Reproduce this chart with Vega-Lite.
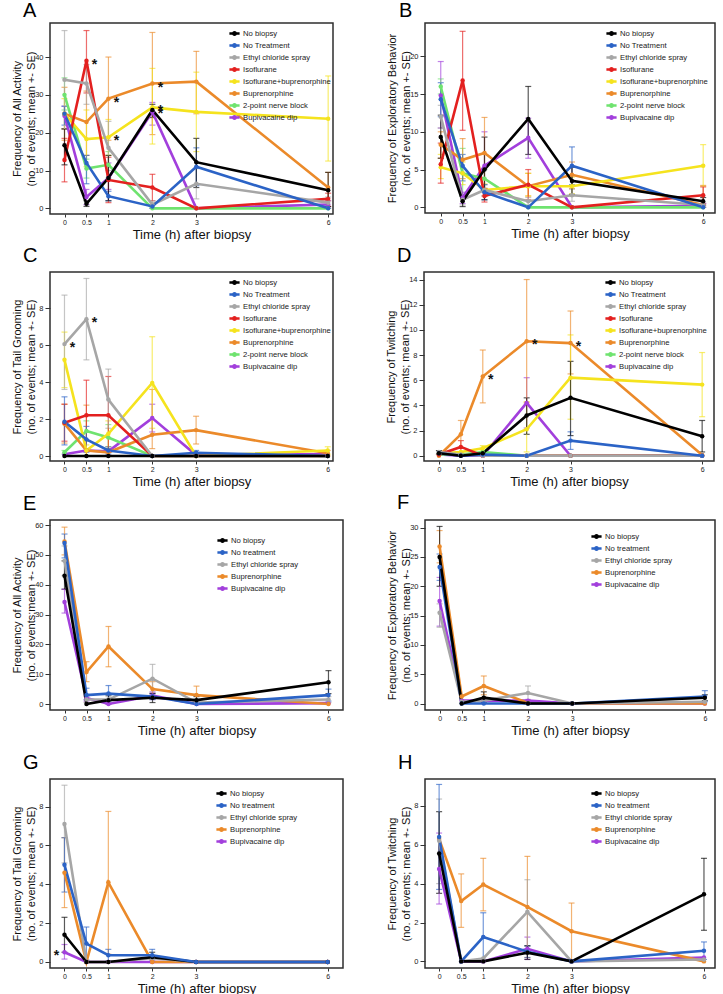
{
"$schema":"https://vega.github.io/schema/vega-lite/v6.json",
"padding":{"left":10,"top":0,"right":0,"bottom":0},
"background":"white",
"data":{"values":[
{"p":"A","g":"Bupivacaine dip","t":0,"m":24.5,"lo":21,"hi":27},
{"p":"A","g":"Bupivacaine dip","t":0.5,"m":3,"lo":1,"hi":5},
{"p":"A","g":"Bupivacaine dip","t":1,"m":8,"lo":5,"hi":12},
{"p":"A","g":"Bupivacaine dip","t":2,"m":25.5,"lo":22,"hi":28},
{"p":"A","g":"Bupivacaine dip","t":3,"m":0},
{"p":"A","g":"Bupivacaine dip","t":6,"m":1,"lo":0,"hi":2},
{"p":"A","g":"2-point nerve block","t":0,"m":30,"lo":26,"hi":34.5},
{"p":"A","g":"2-point nerve block","t":0.5,"m":10.5,"lo":8,"hi":13},
{"p":"A","g":"2-point nerve block","t":1,"m":11.5,"lo":8,"hi":15},
{"p":"A","g":"2-point nerve block","t":2,"m":0},
{"p":"A","g":"2-point nerve block","t":3,"m":0},
{"p":"A","g":"2-point nerve block","t":6,"m":0},
{"p":"A","g":"Buprenorphine","t":0,"m":25,"lo":18,"hi":32},
{"p":"A","g":"Buprenorphine","t":0.5,"m":22.8,"lo":14,"hi":31},
{"p":"A","g":"Buprenorphine","t":1,"m":29,"lo":18,"hi":40,"s":1},
{"p":"A","g":"Buprenorphine","t":2,"m":33,"lo":19.5,"hi":46.5,"s":1},
{"p":"A","g":"Buprenorphine","t":3,"m":33.5,"lo":25,"hi":41.5},
{"p":"A","g":"Buprenorphine","t":6,"m":5.5,"lo":2,"hi":9.5},
{"p":"A","g":"Isoflurane+buprenorphine","t":0,"m":25,"lo":21,"hi":29},
{"p":"A","g":"Isoflurane+buprenorphine","t":0.5,"m":18.3,"lo":11,"hi":26},
{"p":"A","g":"Isoflurane+buprenorphine","t":1,"m":18.8,"lo":14,"hi":23.5,"s":1},
{"p":"A","g":"Isoflurane+buprenorphine","t":2,"m":26.7,"lo":17,"hi":37,"s":1},
{"p":"A","g":"Isoflurane+buprenorphine","t":3,"m":25.5,"lo":15,"hi":36},
{"p":"A","g":"Isoflurane+buprenorphine","t":6,"m":23.7,"lo":12.5,"hi":35},
{"p":"A","g":"Isoflurane","t":0,"m":12.8,"lo":7,"hi":18.5},
{"p":"A","g":"Isoflurane","t":0.5,"m":39,"lo":30.5,"hi":47,"s":1},
{"p":"A","g":"Isoflurane","t":1,"m":7.5,"lo":1.5,"hi":13.5},
{"p":"A","g":"Isoflurane","t":2,"m":5.5,"lo":2,"hi":9},
{"p":"A","g":"Isoflurane","t":3,"m":0},
{"p":"A","g":"Isoflurane","t":6,"m":2.5,"lo":0.5,"hi":4},
{"p":"A","g":"Ethyl chloride spray","t":0,"m":34,"lo":21,"hi":47},
{"p":"A","g":"Ethyl chloride spray","t":0.5,"m":33,"lo":27.5,"hi":38},
{"p":"A","g":"Ethyl chloride spray","t":1,"m":16,"lo":10,"hi":23},
{"p":"A","g":"Ethyl chloride spray","t":2,"m":1,"lo":0,"hi":2},
{"p":"A","g":"Ethyl chloride spray","t":3,"m":6.5,"lo":2.5,"hi":10.5},
{"p":"A","g":"Ethyl chloride spray","t":6,"m":1.5,"lo":0,"hi":3},
{"p":"A","g":"No Treatment","t":0,"m":25,"lo":22,"hi":27},
{"p":"A","g":"No Treatment","t":0.5,"m":12,"lo":6.5,"hi":14},
{"p":"A","g":"No Treatment","t":1,"m":3.2,"lo":2,"hi":4.5},
{"p":"A","g":"No Treatment","t":2,"m":0.5,"lo":0,"hi":1},
{"p":"A","g":"No Treatment","t":3,"m":11,"lo":6,"hi":16},
{"p":"A","g":"No Treatment","t":6,"m":0},
{"p":"A","g":"No biopsy","t":0,"m":16.7,"lo":11.5,"hi":21},
{"p":"A","g":"No biopsy","t":0.5,"m":1.2,"lo":0.5,"hi":2},
{"p":"A","g":"No biopsy","t":1,"m":8,"lo":2,"hi":14},
{"p":"A","g":"No biopsy","t":2,"m":26,"lo":24,"hi":27.5,"s":1},
{"p":"A","g":"No biopsy","t":3,"m":12.2,"lo":5.5,"hi":18.5},
{"p":"A","g":"No biopsy","t":6,"m":4.8,"lo":0.5,"hi":9.5},

{"p":"B","g":"Bupivacaine dip","t":0,"m":14.8,"lo":10.5,"hi":19.3},
{"p":"B","g":"Bupivacaine dip","t":0.5,"m":1.3,"lo":0.5,"hi":2},
{"p":"B","g":"Bupivacaine dip","t":1,"m":5.5,"lo":1.5,"hi":10},
{"p":"B","g":"Bupivacaine dip","t":2,"m":9.2,"lo":6.5,"hi":11.8},
{"p":"B","g":"Bupivacaine dip","t":3,"m":0},
{"p":"B","g":"Bupivacaine dip","t":6,"m":0.2,"lo":0,"hi":0.5},
{"p":"B","g":"2-point nerve block","t":0,"m":16,"lo":15,"hi":17},
{"p":"B","g":"2-point nerve block","t":0.5,"m":4.5,"lo":1.5,"hi":7.8},
{"p":"B","g":"2-point nerve block","t":1,"m":3.8,"lo":2.5,"hi":5},
{"p":"B","g":"2-point nerve block","t":2,"m":0},
{"p":"B","g":"2-point nerve block","t":3,"m":0},
{"p":"B","g":"2-point nerve block","t":6,"m":0},
{"p":"B","g":"Buprenorphine","t":0,"m":8.3,"lo":6.5,"hi":10},
{"p":"B","g":"Buprenorphine","t":0.5,"m":6.3,"lo":3.8,"hi":9.1},
{"p":"B","g":"Buprenorphine","t":1,"m":7.2,"lo":2.5,"hi":11.9},
{"p":"B","g":"Buprenorphine","t":2,"m":2.8,"lo":1.5,"hi":4.5},
{"p":"B","g":"Buprenorphine","t":3,"m":4.3,"lo":2.5,"hi":6},
{"p":"B","g":"Buprenorphine","t":6,"m":0.3,"lo":0,"hi":2.9},
{"p":"B","g":"Isoflurane+buprenorphine","t":0,"m":5.3,"lo":3.8,"hi":7},
{"p":"B","g":"Isoflurane+buprenorphine","t":0.5,"m":4.5,"lo":3,"hi":6},
{"p":"B","g":"Isoflurane+buprenorphine","t":1,"m":2.3,"lo":1.5,"hi":3.1},
{"p":"B","g":"Isoflurane+buprenorphine","t":2,"m":2.8,"lo":1.5,"hi":4.5},
{"p":"B","g":"Isoflurane+buprenorphine","t":3,"m":2.8,"lo":1.8,"hi":4},
{"p":"B","g":"Isoflurane+buprenorphine","t":6,"m":5.5,"lo":2.8,"hi":8.3},
{"p":"B","g":"Isoflurane","t":0,"m":5.7,"lo":3.2,"hi":8.5},
{"p":"B","g":"Isoflurane","t":0.5,"m":16.8,"lo":10.2,"hi":23.3},
{"p":"B","g":"Isoflurane","t":1,"m":1.5,"lo":0.7,"hi":2.5},
{"p":"B","g":"Isoflurane","t":2,"m":3,"lo":1,"hi":5},
{"p":"B","g":"Isoflurane","t":3,"m":0},
{"p":"B","g":"Isoflurane","t":6,"m":1.6,"lo":0.5,"hi":2.7},
{"p":"B","g":"Ethyl chloride spray","t":0,"m":12,"lo":10.5,"hi":13.5},
{"p":"B","g":"Ethyl chloride spray","t":0.5,"m":1,"lo":0.3,"hi":1.7},
{"p":"B","g":"Ethyl chloride spray","t":1,"m":2.3,"lo":1.5,"hi":3},
{"p":"B","g":"Ethyl chloride spray","t":2,"m":0.8,"lo":0.3,"hi":1.3},
{"p":"B","g":"Ethyl chloride spray","t":3,"m":1.6,"lo":0.8,"hi":2.4},
{"p":"B","g":"Ethyl chloride spray","t":6,"m":0.3,"lo":0,"hi":0.6},
{"p":"B","g":"No Treatment","t":0,"m":14.3,"lo":12,"hi":16.5},
{"p":"B","g":"No Treatment","t":0.5,"m":5.5,"lo":3.5,"hi":7},
{"p":"B","g":"No Treatment","t":1,"m":2,"lo":1,"hi":3},
{"p":"B","g":"No Treatment","t":2,"m":0},
{"p":"B","g":"No Treatment","t":3,"m":5.5,"lo":3,"hi":8},
{"p":"B","g":"No Treatment","t":6,"m":0},
{"p":"B","g":"No biopsy","t":0,"m":9.3,"lo":6.5,"hi":12.2},
{"p":"B","g":"No biopsy","t":0.5,"m":0.8,"lo":0.1,"hi":1.5},
{"p":"B","g":"No biopsy","t":1,"m":5,"lo":1,"hi":9.3},
{"p":"B","g":"No biopsy","t":2,"m":11.7,"lo":7,"hi":16},
{"p":"B","g":"No biopsy","t":3,"m":3.5,"lo":1.7,"hi":5.3},
{"p":"B","g":"No biopsy","t":6,"m":0.8,"lo":0.3,"hi":1.3},

{"p":"C","g":"Bupivacaine dip","t":0,"m":0.1},
{"p":"C","g":"Bupivacaine dip","t":0.5,"m":0.3},
{"p":"C","g":"Bupivacaine dip","t":1,"m":0.25},
{"p":"C","g":"Bupivacaine dip","t":2,"m":2.05,"lo":1.3,"hi":2.8},
{"p":"C","g":"Bupivacaine dip","t":3,"m":0.05},
{"p":"C","g":"Bupivacaine dip","t":6,"m":0.1},
{"p":"C","g":"2-point nerve block","t":0,"m":0.2,"lo":0.1,"hi":0.3},
{"p":"C","g":"2-point nerve block","t":0.5,"m":1.35,"lo":0.8,"hi":1.9},
{"p":"C","g":"2-point nerve block","t":1,"m":1,"lo":0.4,"hi":1.7},
{"p":"C","g":"2-point nerve block","t":2,"m":0},
{"p":"C","g":"2-point nerve block","t":3,"m":0},
{"p":"C","g":"2-point nerve block","t":6,"m":0},
{"p":"C","g":"Buprenorphine","t":0,"m":1.75,"lo":0.7,"hi":2.8},
{"p":"C","g":"Buprenorphine","t":0.5,"m":0.3,"lo":0,"hi":2.75},
{"p":"C","g":"Buprenorphine","t":1,"m":0.2,"lo":0,"hi":0.4},
{"p":"C","g":"Buprenorphine","t":2,"m":1.15,"lo":0.4,"hi":3.6},
{"p":"C","g":"Buprenorphine","t":3,"m":1.4,"lo":0.65,"hi":2.15},
{"p":"C","g":"Buprenorphine","t":6,"m":0.15,"lo":0,"hi":0.3},
{"p":"C","g":"Isoflurane+buprenorphine","t":0,"m":5.2,"lo":3.7,"hi":6.7},
{"p":"C","g":"Isoflurane+buprenorphine","t":0.5,"m":0.3,"lo":0,"hi":0.6},
{"p":"C","g":"Isoflurane+buprenorphine","t":1,"m":1.2,"lo":0.5,"hi":1.9},
{"p":"C","g":"Isoflurane+buprenorphine","t":2,"m":3.95,"lo":1.5,"hi":6.45},
{"p":"C","g":"Isoflurane+buprenorphine","t":3,"m":0},
{"p":"C","g":"Isoflurane+buprenorphine","t":6,"m":0.3,"lo":0.1,"hi":0.5},
{"p":"C","g":"Isoflurane","t":0,"m":1.8,"lo":0.8,"hi":2.8},
{"p":"C","g":"Isoflurane","t":0.5,"m":2.2,"lo":0.3,"hi":4.1},
{"p":"C","g":"Isoflurane","t":1,"m":2.2,"lo":0.2,"hi":4.3},
{"p":"C","g":"Isoflurane","t":2,"m":0},
{"p":"C","g":"Isoflurane","t":3,"m":0},
{"p":"C","g":"Isoflurane","t":6,"m":0},
{"p":"C","g":"Ethyl chloride spray","t":0,"m":6.05,"lo":3.6,"hi":8.7,"s":1},
{"p":"C","g":"Ethyl chloride spray","t":0.5,"m":7.4,"lo":5.2,"hi":9.6,"s":1},
{"p":"C","g":"Ethyl chloride spray","t":1,"m":3.05,"lo":1.5,"hi":4.7},
{"p":"C","g":"Ethyl chloride spray","t":2,"m":0},
{"p":"C","g":"Ethyl chloride spray","t":3,"m":0},
{"p":"C","g":"Ethyl chloride spray","t":6,"m":0},
{"p":"C","g":"No Treatment","t":0,"m":1.85,"lo":0.6,"hi":3.2},
{"p":"C","g":"No Treatment","t":0.5,"m":0.9,"lo":0.2,"hi":1.6},
{"p":"C","g":"No Treatment","t":1,"m":0.3,"lo":0.1,"hi":0.5},
{"p":"C","g":"No Treatment","t":2,"m":0},
{"p":"C","g":"No Treatment","t":3,"m":0.18,"lo":0.1,"hi":0.3},
{"p":"C","g":"No Treatment","t":6,"m":0},
{"p":"C","g":"No biopsy","t":0,"m":0},
{"p":"C","g":"No biopsy","t":0.5,"m":0},
{"p":"C","g":"No biopsy","t":1,"m":0},
{"p":"C","g":"No biopsy","t":2,"m":0},
{"p":"C","g":"No biopsy","t":3,"m":0},
{"p":"C","g":"No biopsy","t":6,"m":0},

{"p":"D","g":"Bupivacaine dip","t":0,"m":0.1},
{"p":"D","g":"Bupivacaine dip","t":0.5,"m":0},
{"p":"D","g":"Bupivacaine dip","t":1,"m":0},
{"p":"D","g":"Bupivacaine dip","t":2,"m":4.2,"lo":2.2,"hi":6.2},
{"p":"D","g":"Bupivacaine dip","t":3,"m":0},
{"p":"D","g":"Bupivacaine dip","t":6,"m":0},
{"p":"D","g":"2-point nerve block","t":0,"m":0.1},
{"p":"D","g":"2-point nerve block","t":0.5,"m":0.1},
{"p":"D","g":"2-point nerve block","t":1,"m":0.3},
{"p":"D","g":"2-point nerve block","t":2,"m":0},
{"p":"D","g":"2-point nerve block","t":3,"m":0},
{"p":"D","g":"2-point nerve block","t":6,"m":0},
{"p":"D","g":"Buprenorphine","t":0,"m":0},
{"p":"D","g":"Buprenorphine","t":0.5,"m":1.7,"lo":0.6,"hi":2.8},
{"p":"D","g":"Buprenorphine","t":1,"m":6.3,"lo":4.2,"hi":8.4,"s":1},
{"p":"D","g":"Buprenorphine","t":2,"m":9.1,"lo":4.2,"hi":14,"s":1},
{"p":"D","g":"Buprenorphine","t":3,"m":8.95,"lo":6.5,"hi":11.5,"s":1},
{"p":"D","g":"Buprenorphine","t":6,"m":0.05},
{"p":"D","g":"Isoflurane+buprenorphine","t":0,"m":0.2},
{"p":"D","g":"Isoflurane+buprenorphine","t":0.5,"m":0.3},
{"p":"D","g":"Isoflurane+buprenorphine","t":1,"m":0.6,"lo":0.4,"hi":0.8},
{"p":"D","g":"Isoflurane+buprenorphine","t":2,"m":2.1,"lo":0.3,"hi":4.3},
{"p":"D","g":"Isoflurane+buprenorphine","t":3,"m":6.2,"lo":2.9,"hi":9.6},
{"p":"D","g":"Isoflurane+buprenorphine","t":6,"m":5.65,"lo":3.1,"hi":8.2},
{"p":"D","g":"Isoflurane","t":0,"m":0.1},
{"p":"D","g":"Isoflurane","t":0.5,"m":0.7,"lo":0.3,"hi":1.2},
{"p":"D","g":"Isoflurane","t":1,"m":0},
{"p":"D","g":"Isoflurane","t":2,"m":0},
{"p":"D","g":"Isoflurane","t":3,"m":0},
{"p":"D","g":"Isoflurane","t":6,"m":0},
{"p":"D","g":"Ethyl chloride spray","t":0,"m":0.3,"lo":0.2,"hi":0.4},
{"p":"D","g":"Ethyl chloride spray","t":0.5,"m":0.1},
{"p":"D","g":"Ethyl chloride spray","t":1,"m":0},
{"p":"D","g":"Ethyl chloride spray","t":2,"m":0},
{"p":"D","g":"Ethyl chloride spray","t":3,"m":0},
{"p":"D","g":"Ethyl chloride spray","t":6,"m":0},
{"p":"D","g":"No Treatment","t":0,"m":0.2},
{"p":"D","g":"No Treatment","t":0.5,"m":0},
{"p":"D","g":"No Treatment","t":1,"m":0.1},
{"p":"D","g":"No Treatment","t":2,"m":0},
{"p":"D","g":"No Treatment","t":3,"m":1.2,"lo":0.5,"hi":1.9},
{"p":"D","g":"No Treatment","t":6,"m":0},
{"p":"D","g":"No biopsy","t":0,"m":0.2,"lo":0.1,"hi":0.4},
{"p":"D","g":"No biopsy","t":0.5,"m":0},
{"p":"D","g":"No biopsy","t":1,"m":0.2,"lo":0.1,"hi":0.3},
{"p":"D","g":"No biopsy","t":2,"m":3.2,"lo":1.7,"hi":4.6},
{"p":"D","g":"No biopsy","t":3,"m":4.6,"lo":1.6,"hi":7.5},
{"p":"D","g":"No biopsy","t":6,"m":1.55,"lo":0.3,"hi":2.8},

{"p":"E","g":"Bupivacaine dip","t":0,"m":34.2,"lo":30.5,"hi":38.5},
{"p":"E","g":"Bupivacaine dip","t":0.5,"m":2,"lo":1,"hi":3},
{"p":"E","g":"Bupivacaine dip","t":1,"m":0},
{"p":"E","g":"Bupivacaine dip","t":2,"m":2.8,"lo":1.5,"hi":4},
{"p":"E","g":"Bupivacaine dip","t":3,"m":0},
{"p":"E","g":"Bupivacaine dip","t":6,"m":0.3},
{"p":"E","g":"Buprenorphine","t":0,"m":54.5,"lo":50,"hi":59.3},
{"p":"E","g":"Buprenorphine","t":0.5,"m":10.7,"lo":7.5,"hi":14.2},
{"p":"E","g":"Buprenorphine","t":1,"m":19.3,"lo":12.5,"hi":26},
{"p":"E","g":"Buprenorphine","t":2,"m":5,"lo":2.5,"hi":7.5},
{"p":"E","g":"Buprenorphine","t":3,"m":3,"lo":0,"hi":6},
{"p":"E","g":"Buprenorphine","t":6,"m":0},
{"p":"E","g":"Ethyl chloride spray","t":0,"m":48,"lo":43,"hi":53},
{"p":"E","g":"Ethyl chloride spray","t":0.5,"m":1.5,"lo":0.5,"hi":2.5},
{"p":"E","g":"Ethyl chloride spray","t":1,"m":1.5,"lo":0.5,"hi":2.5},
{"p":"E","g":"Ethyl chloride spray","t":2,"m":8.5,"lo":4,"hi":13.3},
{"p":"E","g":"Ethyl chloride spray","t":3,"m":0.5,"lo":0,"hi":1},
{"p":"E","g":"Ethyl chloride spray","t":6,"m":1.5,"lo":0.5,"hi":2.5},
{"p":"E","g":"No treatment","t":0,"m":54,"lo":49,"hi":57},
{"p":"E","g":"No treatment","t":0.5,"m":3,"lo":1.5,"hi":5.3},
{"p":"E","g":"No treatment","t":1,"m":3.5,"lo":1,"hi":6.2},
{"p":"E","g":"No treatment","t":2,"m":2.5,"lo":1.5,"hi":3.5},
{"p":"E","g":"No treatment","t":3,"m":0},
{"p":"E","g":"No treatment","t":6,"m":3,"lo":1,"hi":5},
{"p":"E","g":"No biopsy","t":0,"m":43,"lo":38.5,"hi":48},
{"p":"E","g":"No biopsy","t":0.5,"m":0},
{"p":"E","g":"No biopsy","t":1,"m":1.3,"lo":0,"hi":3},
{"p":"E","g":"No biopsy","t":2,"m":2.1,"lo":0.5,"hi":3.5},
{"p":"E","g":"No biopsy","t":3,"m":1.3,"lo":0,"hi":2.5},
{"p":"E","g":"No biopsy","t":6,"m":7.3,"lo":3.5,"hi":11.2},

{"p":"F","g":"Bupivacaine dip","t":0,"m":17.5,"lo":13.2,"hi":21.5},
{"p":"F","g":"Bupivacaine dip","t":0.5,"m":0.5},
{"p":"F","g":"Bupivacaine dip","t":1,"m":0.5},
{"p":"F","g":"Bupivacaine dip","t":2,"m":0.5},
{"p":"F","g":"Bupivacaine dip","t":3,"m":0},
{"p":"F","g":"Bupivacaine dip","t":6,"m":0},
{"p":"F","g":"Buprenorphine","t":0,"m":26.8,"lo":24,"hi":29.5},
{"p":"F","g":"Buprenorphine","t":0.5,"m":1.2},
{"p":"F","g":"Buprenorphine","t":1,"m":3,"lo":1.5,"hi":4.7},
{"p":"F","g":"Buprenorphine","t":2,"m":0.1},
{"p":"F","g":"Buprenorphine","t":3,"m":0},
{"p":"F","g":"Buprenorphine","t":6,"m":0},
{"p":"F","g":"Ethyl chloride spray","t":0,"m":15.5,"lo":13,"hi":17},
{"p":"F","g":"Ethyl chloride spray","t":0.5,"m":0.3},
{"p":"F","g":"Ethyl chloride spray","t":1,"m":0.5},
{"p":"F","g":"Ethyl chloride spray","t":2,"m":1.8,"lo":0.7,"hi":3},
{"p":"F","g":"Ethyl chloride spray","t":3,"m":0},
{"p":"F","g":"Ethyl chloride spray","t":6,"m":0.3},
{"p":"F","g":"No treatment","t":0,"m":23.3,"lo":21,"hi":25.5},
{"p":"F","g":"No treatment","t":0.5,"m":0},
{"p":"F","g":"No treatment","t":1,"m":0},
{"p":"F","g":"No treatment","t":2,"m":0},
{"p":"F","g":"No treatment","t":3,"m":0},
{"p":"F","g":"No treatment","t":6,"m":1.2,"lo":0.3,"hi":2.2},
{"p":"F","g":"No biopsy","t":0,"m":25,"lo":20,"hi":30.2},
{"p":"F","g":"No biopsy","t":0.5,"m":0},
{"p":"F","g":"No biopsy","t":1,"m":1,"lo":0.2,"hi":2},
{"p":"F","g":"No biopsy","t":2,"m":0},
{"p":"F","g":"No biopsy","t":3,"m":0},
{"p":"F","g":"No biopsy","t":6,"m":1,"lo":0.5,"hi":1.5},

{"p":"G","g":"Bupivacaine dip","t":0,"m":0.5,"lo":0.15,"hi":0.9,"s":1},
{"p":"G","g":"Bupivacaine dip","t":0.5,"m":0},
{"p":"G","g":"Bupivacaine dip","t":1,"m":0},
{"p":"G","g":"Bupivacaine dip","t":2,"m":0},
{"p":"G","g":"Bupivacaine dip","t":3,"m":0},
{"p":"G","g":"Bupivacaine dip","t":6,"m":0},
{"p":"G","g":"Buprenorphine","t":0,"m":4.6,"lo":2.8,"hi":6.4},
{"p":"G","g":"Buprenorphine","t":0.5,"m":0},
{"p":"G","g":"Buprenorphine","t":1,"m":4.1,"lo":0.4,"hi":7.75},
{"p":"G","g":"Buprenorphine","t":2,"m":0},
{"p":"G","g":"Buprenorphine","t":3,"m":0},
{"p":"G","g":"Buprenorphine","t":6,"m":0},
{"p":"G","g":"Ethyl chloride spray","t":0,"m":7.1,"lo":5.1,"hi":9.1},
{"p":"G","g":"Ethyl chloride spray","t":0.5,"m":0},
{"p":"G","g":"Ethyl chloride spray","t":1,"m":0},
{"p":"G","g":"Ethyl chloride spray","t":2,"m":0.2},
{"p":"G","g":"Ethyl chloride spray","t":3,"m":0},
{"p":"G","g":"Ethyl chloride spray","t":6,"m":0},
{"p":"G","g":"No biopsy","t":0,"m":1.4,"lo":0.5,"hi":2.3},
{"p":"G","g":"No biopsy","t":0.5,"m":0},
{"p":"G","g":"No biopsy","t":1,"m":0},
{"p":"G","g":"No biopsy","t":2,"m":0.25,"lo":0,"hi":0.5},
{"p":"G","g":"No biopsy","t":3,"m":0},
{"p":"G","g":"No biopsy","t":6,"m":0},
{"p":"G","g":"No treatment","t":0,"m":5,"lo":3.6,"hi":6.4},
{"p":"G","g":"No treatment","t":0.5,"m":0.95,"lo":0.1,"hi":1.8},
{"p":"G","g":"No treatment","t":1,"m":0.35,"lo":0.05,"hi":0.65},
{"p":"G","g":"No treatment","t":2,"m":0.35,"lo":0.1,"hi":0.65},
{"p":"G","g":"No treatment","t":3,"m":0},
{"p":"G","g":"No treatment","t":6,"m":0},

{"p":"H","g":"Bupivacaine dip","t":0,"m":4.75,"lo":2.95,"hi":6.6},
{"p":"H","g":"Bupivacaine dip","t":0.5,"m":0},
{"p":"H","g":"Bupivacaine dip","t":1,"m":0},
{"p":"H","g":"Bupivacaine dip","t":2,"m":0.65,"lo":0.1,"hi":1.25},
{"p":"H","g":"Bupivacaine dip","t":3,"m":0},
{"p":"H","g":"Bupivacaine dip","t":6,"m":0.2},
{"p":"H","g":"Buprenorphine","t":0,"m":6.3},
{"p":"H","g":"Buprenorphine","t":0.5,"m":3.1,"lo":1.75,"hi":4.5},
{"p":"H","g":"Buprenorphine","t":1,"m":3.95,"lo":2.6,"hi":5.3},
{"p":"H","g":"Buprenorphine","t":2,"m":2.8,"lo":0.2,"hi":5.4},
{"p":"H","g":"Buprenorphine","t":3,"m":1.55,"lo":0,"hi":3},
{"p":"H","g":"Buprenorphine","t":6,"m":0},
{"p":"H","g":"Ethyl chloride spray","t":0,"m":6.2,"lo":4,"hi":8.35},
{"p":"H","g":"Ethyl chloride spray","t":0.5,"m":0},
{"p":"H","g":"Ethyl chloride spray","t":1,"m":0.15},
{"p":"H","g":"Ethyl chloride spray","t":2,"m":2.55,"lo":0.8,"hi":4.2},
{"p":"H","g":"Ethyl chloride spray","t":3,"m":0},
{"p":"H","g":"Ethyl chloride spray","t":6,"m":0.1},
{"p":"H","g":"No treatment","t":0,"m":6.4,"lo":3.7,"hi":9.1},
{"p":"H","g":"No treatment","t":0.5,"m":0},
{"p":"H","g":"No treatment","t":1,"m":1.25,"lo":0,"hi":2.5},
{"p":"H","g":"No treatment","t":2,"m":0.5,"lo":0.2,"hi":0.8},
{"p":"H","g":"No treatment","t":3,"m":0},
{"p":"H","g":"No treatment","t":6,"m":0.55,"lo":0.1,"hi":1},
{"p":"H","g":"No biopsy","t":0,"m":5.55,"lo":3.5,"hi":7.7},
{"p":"H","g":"No biopsy","t":0.5,"m":0},
{"p":"H","g":"No biopsy","t":1,"m":0},
{"p":"H","g":"No biopsy","t":2,"m":0.45,"lo":0.1,"hi":0.8},
{"p":"H","g":"No biopsy","t":3,"m":0},
{"p":"H","g":"No biopsy","t":6,"m":3.45,"lo":1.6,"hi":5.3}
]},
"spacing":3,
"resolve":{"scale":{"x":"independent","y":"independent","color":"independent"},"legend":{"color":"independent"}},
"vconcat":[
{"spacing":3,
 "resolve":{"scale":{"x":"independent","y":"independent","color":"independent"},"legend":{"color":"independent"}},
 "vconcat":[
 {"spacing":50,
  "resolve":{"scale":{"x":"independent","y":"independent","color":"independent"},"legend":{"color":"independent"}},
  "hconcat":[
  {"width":283,"height":191,"title":{"text":"A","offset":2,"anchor":"start","frame":"group","dx":-27},
   "transform":[{"filter":"datum.p == 'A'"}],
   "encoding":{"x":{"field":"t","type":"quantitative","scale":{"domain":[-0.33,6.11],"nice":false,"zero":false},"axis":{"values":[0,0.5,1,2,3,6],"format":"~g","title":"Time (h) after biopsy"}},
     "color":{"field":"g","type":"nominal","scale":{"domain":["No biopsy","No Treatment","Ethyl chloride spray","Isoflurane","Isoflurane+buprenorphine","Buprenorphine","2-point nerve block","Bupivacaine dip"],"range":["#000000","#2b63c6","#a6a6a6","#e3201f","#f5e31e","#eb8a2a","#6fe36f","#a23fdc"]},"legend":{"title":null,"legendX":179,"legendY":5}},
     "y":{"field":"m","type":"quantitative","scale":{"domain":[-1.5,49],"nice":false,"zero":false},"axis":{"values":[0,10,20,30,40],"title":["Frequency of All Activity","(no. of events; mean +- SE)"]}}},
   "layer":[
    {"transform":[{"filter":"isValid(datum.lo)"}],"mark":{"type":"errorbar","ticks":true,"size":6,"thickness":1.2,"opacity":0.65},
     "encoding":{"y":{"field":"lo","type":"quantitative","scale":{"domain":[-1.5,49],"nice":false,"zero":false},"axis":{"values":[0,10,20,30,40],"title":["Frequency of All Activity","(no. of events; mean +- SE)"]}},"y2":{"field":"hi"}}},
    {"mark":{"type":"line","strokeWidth":2.6}},
    {"mark":{"type":"point","filled":true,"size":20,"opacity":1}},
    {"transform":[{"filter":"datum.s == 1"}],"mark":{"type":"text","text":"*","dx":8,"dy":4,"fontSize":14,"fontWeight":"bold"},
     "encoding":{"color":{"value":"#111"}}}
   ]},
  {"width":290,"height":190,"title":{"text":"B","offset":2,"anchor":"start","frame":"group","dx":-26},
   "transform":[{"filter":"datum.p == 'B'"}],
   "encoding":{"x":{"field":"t","type":"quantitative","scale":{"domain":[-0.36,6.27],"nice":false,"zero":false},"axis":{"values":[0,0.5,1,2,3,6],"format":"~g","title":"Time (h) after biopsy"}},
     "color":{"field":"g","type":"nominal","scale":{"domain":["No biopsy","No Treatment","Ethyl chloride spray","Isoflurane","Isoflurane+buprenorphine","Buprenorphine","2-point nerve block","Bupivacaine dip"],"range":["#000000","#2b63c6","#a6a6a6","#e3201f","#f5e31e","#eb8a2a","#6fe36f","#a23fdc"]},"legend":{"title":null,"legendX":181,"legendY":5}},
     "y":{"field":"m","type":"quantitative","scale":{"domain":[-0.75,24.4],"nice":false,"zero":false},"axis":{"values":[0,5,10,15,20],"title":["Frequency of Exploratory Behavior","(no. of events; mean +- SE)"]}}},
   "layer":[
    {"transform":[{"filter":"isValid(datum.lo)"}],"mark":{"type":"errorbar","ticks":true,"size":6,"thickness":1.2,"opacity":0.65},
     "encoding":{"y":{"field":"lo","type":"quantitative","scale":{"domain":[-0.75,24.4],"nice":false,"zero":false},"axis":{"values":[0,5,10,15,20],"title":["Frequency of Exploratory Behavior","(no. of events; mean +- SE)"]}},"y2":{"field":"hi"}}},
    {"mark":{"type":"line","strokeWidth":2.6}},
    {"mark":{"type":"point","filled":true,"size":20,"opacity":1}}
   ]}
  ]},
 {"spacing":50,
  "resolve":{"scale":{"x":"independent","y":"independent","color":"independent"},"legend":{"color":"independent"}},
  "hconcat":[
  {"width":283,"height":189,"title":{"text":"C","offset":6,"anchor":"start","frame":"group","dx":-27},
   "transform":[{"filter":"datum.p == 'C'"}],
   "encoding":{"x":{"field":"t","type":"quantitative","scale":{"domain":[-0.33,6.12],"nice":false,"zero":false},"axis":{"values":[0,0.5,1,2,3,6],"format":"~g","title":"Time (h) after biopsy"}},
     "color":{"field":"g","type":"nominal","scale":{"domain":["No biopsy","No Treatment","Ethyl chloride spray","Isoflurane","Isoflurane+buprenorphine","Buprenorphine","2-point nerve block","Bupivacaine dip"],"range":["#000000","#2b63c6","#a6a6a6","#e3201f","#f5e31e","#eb8a2a","#6fe36f","#a23fdc"]},"legend":{"title":null,"legendX":179,"legendY":5}},
     "y":{"field":"m","type":"quantitative","scale":{"domain":[-0.27,9.95],"nice":false,"zero":false},"axis":{"values":[0,2,4,6,8],"title":["Frequency of Tail Grooming","(no. of events; mean +- SE)"]}}},
   "layer":[
    {"transform":[{"filter":"isValid(datum.lo)"}],"mark":{"type":"errorbar","ticks":true,"size":6,"thickness":1.2,"opacity":0.65},
     "encoding":{"y":{"field":"lo","type":"quantitative","scale":{"domain":[-0.27,9.95],"nice":false,"zero":false},"axis":{"values":[0,2,4,6,8],"title":["Frequency of Tail Grooming","(no. of events; mean +- SE)"]}},"y2":{"field":"hi"}}},
    {"mark":{"type":"line","strokeWidth":2.6}},
    {"mark":{"type":"point","filled":true,"size":20,"opacity":1}},
    {"transform":[{"filter":"datum.s == 1"}],"mark":{"type":"text","text":"*","dx":8,"dy":4,"fontSize":14,"fontWeight":"bold"},
     "encoding":{"color":{"value":"#111"}}}
   ]},
  {"width":290,"height":189,"title":{"text":"D","offset":6,"anchor":"start","frame":"group","dx":-27},
   "transform":[{"filter":"datum.p == 'D'"}],
   "encoding":{"x":{"field":"t","type":"quantitative","scale":{"domain":[-0.34,6.27],"nice":false,"zero":false},"axis":{"values":[0,0.5,1,2,3,6],"format":"~g","title":"Time (h) after biopsy"}},
     "color":{"field":"g","type":"nominal","scale":{"domain":["No biopsy","No Treatment","Ethyl chloride spray","Isoflurane","Isoflurane+buprenorphine","Buprenorphine","2-point nerve block","Bupivacaine dip"],"range":["#000000","#2b63c6","#a6a6a6","#e3201f","#f5e31e","#eb8a2a","#6fe36f","#a23fdc"]},"legend":{"title":null,"legendX":181,"legendY":5}},
     "y":{"field":"m","type":"quantitative","scale":{"domain":[-0.42,14.6],"nice":false,"zero":false},"axis":{"values":[0,2,4,6,8,10,12,14],"title":["Frequency of Twitching","(no. of events; mean +- SE)"]}}},
   "layer":[
    {"transform":[{"filter":"isValid(datum.lo)"}],"mark":{"type":"errorbar","ticks":true,"size":6,"thickness":1.2,"opacity":0.65},
     "encoding":{"y":{"field":"lo","type":"quantitative","scale":{"domain":[-0.42,14.6],"nice":false,"zero":false},"axis":{"values":[0,2,4,6,8,10,12,14],"title":["Frequency of Twitching","(no. of events; mean +- SE)"]}},"y2":{"field":"hi"}}},
    {"mark":{"type":"line","strokeWidth":2.6}},
    {"mark":{"type":"point","filled":true,"size":20,"opacity":1}},
    {"transform":[{"filter":"datum.s == 1"}],"mark":{"type":"text","text":"*","dx":8,"dy":4,"fontSize":14,"fontWeight":"bold"},
     "encoding":{"color":{"value":"#111"}}}
   ]}
  ]}
 ]},
{"spacing":14,
 "resolve":{"scale":{"x":"independent","y":"independent","color":"independent"},"legend":{"color":"independent"}},
 "vconcat":[
 {"spacing":41,
  "resolve":{"scale":{"x":"independent","y":"independent","color":"independent"},"legend":{"color":"independent"}},
  "hconcat":[
  {"width":293,"height":190,"title":{"text":"E","offset":6,"anchor":"start","frame":"group","dx":-27},
   "transform":[{"filter":"datum.p == 'E'"}],
   "encoding":{"x":{"field":"t","type":"quantitative","scale":{"domain":[-0.33,6.33],"nice":false,"zero":false},"axis":{"values":[0,0.5,1,2,3,6],"format":"~g","title":"Time (h) after biopsy"}},
     "color":{"field":"g","type":"nominal","scale":{"domain":["No biopsy","No treatment","Ethyl chloride spray","Buprenorphine","Bupivacaine dip"],"range":["#000000","#2b63c6","#a6a6a6","#eb8a2a","#a23fdc"]},"legend":{"title":null,"legendX":167,"legendY":15}},
     "y":{"field":"m","type":"quantitative","scale":{"domain":[-2,61.7],"nice":false,"zero":false},"axis":{"values":[0,10,20,30,40,50,60],"title":["Frequency of All Activity","(no. of events;mean +- SE)"]}}},
   "layer":[
    {"transform":[{"filter":"isValid(datum.lo)"}],"mark":{"type":"errorbar","ticks":true,"size":6,"thickness":1.2,"opacity":0.65},
     "encoding":{"y":{"field":"lo","type":"quantitative","scale":{"domain":[-2,61.7],"nice":false,"zero":false},"axis":{"values":[0,10,20,30,40,50,60],"title":["Frequency of All Activity","(no. of events;mean +- SE)"]}},"y2":{"field":"hi"}}},
    {"mark":{"type":"line","strokeWidth":2.6}},
    {"mark":{"type":"point","filled":true,"size":20,"opacity":1}}
   ]},
  {"width":290,"height":190,"title":{"text":"F","offset":7,"anchor":"start","frame":"group","dx":-28},
   "transform":[{"filter":"datum.p == 'F'"}],
   "encoding":{"x":{"field":"t","type":"quantitative","scale":{"domain":[-0.33,6.23],"nice":false,"zero":false},"axis":{"values":[0,0.5,1,2,3,6],"format":"~g","title":"Time (h) after biopsy"}},
     "color":{"field":"g","type":"nominal","scale":{"domain":["No biopsy","No treatment","Ethyl chloride spray","Buprenorphine","Bupivacaine dip"],"range":["#000000","#2b63c6","#a6a6a6","#eb8a2a","#a23fdc"]},"legend":{"title":null,"legendX":166,"legendY":11}},
     "y":{"field":"m","type":"quantitative","scale":{"domain":[-1.1,31.3],"nice":false,"zero":false},"axis":{"values":[0,5,10,15,20,25,30],"title":["Frequency of Exploratory Behavior","(no. of events; mean +- SE)"]}}},
   "layer":[
    {"transform":[{"filter":"isValid(datum.lo)"}],"mark":{"type":"errorbar","ticks":true,"size":6,"thickness":1.2,"opacity":0.65},
     "encoding":{"y":{"field":"lo","type":"quantitative","scale":{"domain":[-1.1,31.3],"nice":false,"zero":false},"axis":{"values":[0,5,10,15,20,25,30],"title":["Frequency of Exploratory Behavior","(no. of events; mean +- SE)"]}},"y2":{"field":"hi"}}},
    {"mark":{"type":"line","strokeWidth":2.6}},
    {"mark":{"type":"point","filled":true,"size":20,"opacity":1}}
   ]}
  ]},
 {"spacing":41,
  "resolve":{"scale":{"x":"independent","y":"independent","color":"independent"},"legend":{"color":"independent"}},
  "hconcat":[
  {"width":293,"height":189,"title":{"text":"G","offset":6,"anchor":"start","frame":"group","dx":-27},
   "transform":[{"filter":"datum.p == 'G'"}],
   "encoding":{"x":{"field":"t","type":"quantitative","scale":{"domain":[-0.33,6.35],"nice":false,"zero":false},"axis":{"values":[0,0.5,1,2,3,6],"format":"~g","title":"Time (h) after biopsy"}},
     "color":{"field":"g","type":"nominal","scale":{"domain":["No biopsy","No treatment","Ethyl chloride spray","Buprenorphine","Bupivacaine dip"],"range":["#000000","#2b63c6","#a6a6a6","#eb8a2a","#a23fdc"]},"legend":{"title":null,"legendX":166,"legendY":9}},
     "y":{"field":"m","type":"quantitative","scale":{"domain":[-0.31,9.42],"nice":false,"zero":false},"axis":{"values":[0,2,4,6,8],"title":["Frequency of Tail Grooming","(no. of events; mean +- SE)"]}}},
   "layer":[
    {"transform":[{"filter":"isValid(datum.lo)"}],"mark":{"type":"errorbar","ticks":true,"size":6,"thickness":1.2,"opacity":0.65},
     "encoding":{"y":{"field":"lo","type":"quantitative","scale":{"domain":[-0.31,9.42],"nice":false,"zero":false},"axis":{"values":[0,2,4,6,8],"title":["Frequency of Tail Grooming","(no. of events; mean +- SE)"]}},"y2":{"field":"hi"}}},
    {"mark":{"type":"line","strokeWidth":2.6}},
    {"mark":{"type":"point","filled":true,"size":20,"opacity":1}},
    {"transform":[{"filter":"datum.s == 1"}],"mark":{"type":"text","text":"*","dx":-8,"dy":4,"fontSize":14,"fontWeight":"bold"},
     "encoding":{"color":{"value":"#111"}}}
   ]},
  {"width":290,"height":189,"title":{"text":"H","offset":6,"anchor":"start","frame":"group","dx":-27},
   "transform":[{"filter":"datum.p == 'H'"}],
   "encoding":{"x":{"field":"t","type":"quantitative","scale":{"domain":[-0.32,6.25],"nice":false,"zero":false},"axis":{"values":[0,0.5,1,2,3,6],"format":"~g","title":"Time (h) after biopsy"}},
     "color":{"field":"g","type":"nominal","scale":{"domain":["No biopsy","No treatment","Ethyl chloride spray","Buprenorphine","Bupivacaine dip"],"range":["#000000","#2b63c6","#a6a6a6","#eb8a2a","#a23fdc"]},"legend":{"title":null,"legendX":166,"legendY":9}},
     "y":{"field":"m","type":"quantitative","scale":{"domain":[-0.34,9.38],"nice":false,"zero":false},"axis":{"values":[0,2,4,6,8],"title":["Frequency of Twitching","(no. of events; mean +- SE)"]}}},
   "layer":[
    {"transform":[{"filter":"isValid(datum.lo)"}],"mark":{"type":"errorbar","ticks":true,"size":6,"thickness":1.2,"opacity":0.65},
     "encoding":{"y":{"field":"lo","type":"quantitative","scale":{"domain":[-0.34,9.38],"nice":false,"zero":false},"axis":{"values":[0,2,4,6,8],"title":["Frequency of Twitching","(no. of events; mean +- SE)"]}},"y2":{"field":"hi"}}},
    {"mark":{"type":"line","strokeWidth":2.6}},
    {"mark":{"type":"point","filled":true,"size":20,"opacity":1}}
   ]}
  ]}
 ]}
],
"config":{
 "font":"Liberation Sans",
 "view":{"stroke":"#2e2e2e","strokeWidth":1.5},
 "title":{"fontSize":20,"fontWeight":"normal","color":"#000"},
 "axis":{"grid":false,"domain":false,"tickColor":"#333","labelColor":"#222","titleColor":"#111","titleFontWeight":"normal"},
 "axisX":{"labelFontSize":7,"tickSize":3,"labelPadding":1,"titleFontSize":13,"titlePadding":3},
 "axisY":{"labelFontSize":7.5,"tickSize":5,"labelPadding":2,"titleFontSize":11,"titlePadding":0,"minExtent":14,"maxExtent":14,"titleLineHeight":14},
 "legend":{"orient":"none","symbolType":"M-1.2,0H1.2M-0.3,0A0.3,0.3,0,1,0,0.3,0A0.3,0.3,0,1,0,-0.3,0","symbolSize":72,"symbolStrokeWidth":2.5,"symbolOpacity":1,"labelFontSize":7.7,"rowPadding":-1,"labelOffset":3,"padding":0,"labelColor":"#222"}
}
}
